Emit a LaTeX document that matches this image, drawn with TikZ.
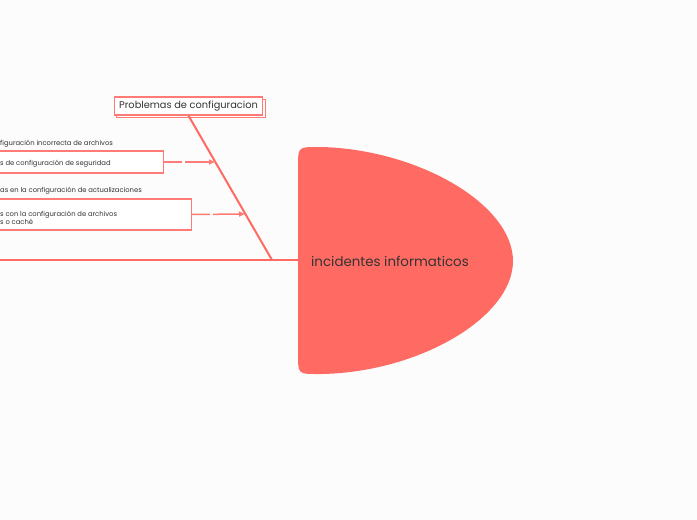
\documentclass[tikz,border=0pt]{standalone}
\usepackage{fontspec}
\setmainfont{Poppins}
\usetikzlibrary{arrows.meta,shadows}
\definecolor{fishred}{HTML}{FF6B63}
\definecolor{boxred}{HTML}{FF7C76}
\definecolor{inktext}{HTML}{333333}
\definecolor{paper}{HTML}{FCFCFC}
\begin{document}
\begin{tikzpicture}[x=1pt,y=-1pt,
  bone/.style={fishred,line width=2pt},
  twig/.style={boxred,line width=1.5pt,dash pattern=on 18pt off 3pt on 80pt,-{Triangle[length=6pt,width=5pt]}},
  leaf/.style={font=\fontsize{6.8}{8.5}\selectfont,text=inktext,anchor=west,inner sep=0pt,align=left},
  leafbox/.style={draw=boxred,line width=1.2pt,fill=white,anchor=east,inner sep=0pt},
  catbox/.style={draw=boxred,line width=1.2pt,fill=white,font=\fontsize{9.8}{11}\selectfont,text=inktext,inner xsep=5pt,inner ysep=4pt,copy shadow={shadow xshift=2.5pt,shadow yshift=-2.5pt}}]
  \fill[paper] (0,0) rectangle (697,520);
  \useasboundingbox (0,0) rectangle (697,520);
  \clip (0,0) rectangle (697,520);
  % head
  \fill[fishred] (322,147) .. controls (420,150) and (513,205) .. (513,261)
    .. controls (513,317) and (420,372) .. (322,374) -- (318,374)
    .. controls (298,374) .. (298,354) -- (298,167)
    .. controls (298,147) .. (318,147) -- cycle;
  \node[font=\fontsize{13.4}{15}\selectfont,text=inktext,anchor=west,inner sep=0pt] (head) at (311,261) {incidentes informaticos};
  % spine
  \coordinate (tail) at (0,260);
  \coordinate (neck) at (298,260);
  \coordinate (ribend) at (272,260);
  \draw[bone] (tail) -- (neck);
  % category
  \node[catbox] (prob) at (188.5,106) {Problemas de configuracion};
  \draw[bone] (prob.south) -- (ribend);
  \coordinate (r1) at (215,162);
  \coordinate (r2) at (245,214);
  % causes
  \node[leaf] (c1) at (0,143.5) {figuración incorrecta de archivos};
  \node[leafbox,minimum width=184pt,minimum height=22pt] (b1) at (164,162) {};
  \node[leaf] (c2) at (0,163.5) {s de configuración de seguridad};
  \draw[twig] (b1.east) -- (r1);
  \node[leaf] (c3) at (0,190.5) {as en la configuración de actualizaciones};
  \node[leafbox,minimum width=212pt,minimum height=31pt] (b2) at (192,214.5) {};
  \node[leaf] (c4) at (0,218) {s con la configuración de archivos\\s o caché};
  \draw[twig] (b2.east) -- (r2);
\end{tikzpicture}
\end{document}
